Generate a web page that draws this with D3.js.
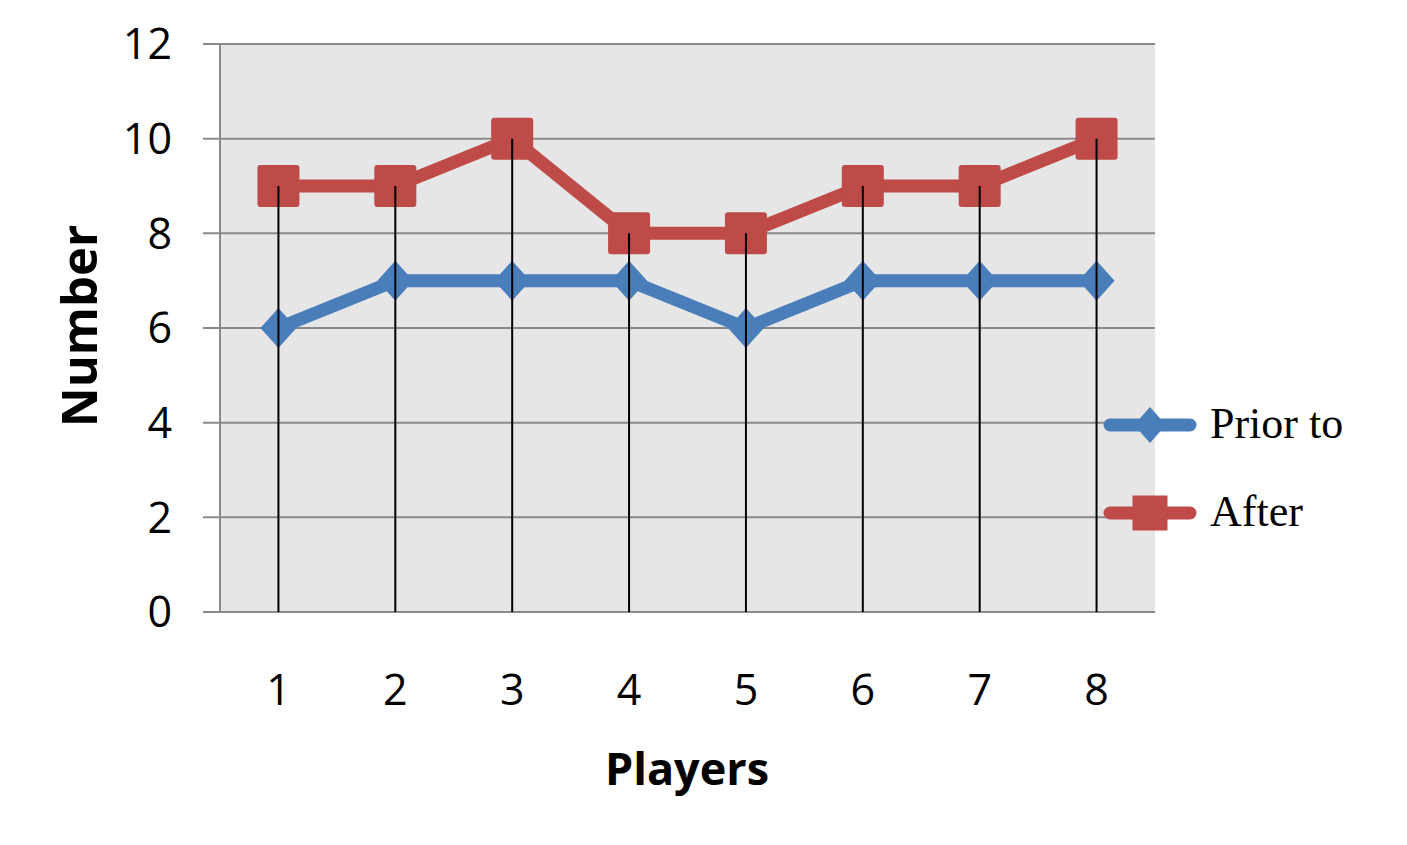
<!DOCTYPE html>
<html>
<head>
<meta charset="utf-8">
<script src="https://cdn.jsdelivr.net/npm/d3@7"></script>
<style>
  body { margin: 0; background: #fff; }
  svg { display: block; }
</style>
</head>
<body>
<svg id="chart" width="1407" height="845"></svg>
<script>
// data
var players = [1, 2, 3, 4, 5, 6, 7, 8];
var priorTo = [6, 7, 7, 7, 6, 7, 7, 7];
var after = [9, 9, 10, 8, 8, 9, 9, 10];
var yTicks = [0, 2, 4, 6, 8, 10, 12];
var seriesNames = ["Prior to", "After"];

const BLUE = "#4a7ebb";
const RED = "#be4b48";
const GRID = "#8a8a8a";
const TICK_FONT = "'Open Sans', sans-serif";

var svg = d3.select("#chart");

var plot = { left: 220, right: 1155, top: 44, bottom: 612 };

var x = d3
  .scaleBand()
  .domain(players)
  .range([plot.left, plot.right]);

var y = d3
  .scaleLinear()
  .domain([0, 12])
  .range([plot.bottom, plot.top]);

// plot background
svg
  .append("rect")
  .attr("x", plot.left)
  .attr("y", plot.top)
  .attr("width", plot.right - plot.left)
  .attr("height", plot.bottom - plot.top)
  .attr("fill", "#e6e6e6");

// gridlines (they poke out to the left like tick marks)
svg
  .append("g")
  .selectAll("line")
  .data(yTicks)
  .join("line")
  .attr("x1", plot.left - 17)
  .attr("x2", plot.right)
  .attr("y1", (d) => y(d))
  .attr("y2", (d) => y(d))
  .attr("stroke", GRID)
  .attr("stroke-width", 2);

// left axis line
svg
  .append("line")
  .attr("x1", plot.left)
  .attr("x2", plot.left)
  .attr("y1", plot.top)
  .attr("y2", plot.bottom)
  .attr("stroke", GRID)
  .attr("stroke-width", 2);

// y tick labels
svg
  .append("g")
  .selectAll("text")
  .data(yTicks)
  .join("text")
  .attr("x", 172)
  .attr("y", (d) => y(d))
  .attr("dy", "0.36em")
  .attr("text-anchor", "end")
  .style("font-family", TICK_FONT)
  .style("font-size", "43px")
  .attr("fill", "#000")
  .text((d) => d);

// x tick labels
svg
  .append("g")
  .selectAll("text")
  .data(players)
  .join("text")
  .attr("x", (d) => x(d) + x.bandwidth() / 2)
  .attr("y", 705)
  .attr("text-anchor", "middle")
  .style("font-family", TICK_FONT)
  .style("font-size", "43px")
  .attr("fill", "#000")
  .text((d) => d);

// axis titles
svg
  .append("text")
  .attr("transform", "translate(97, 326) rotate(-90)")
  .attr("text-anchor", "middle")
  .style("font-family", TICK_FONT)
  .style("font-weight", "bold")
  .style("font-size", "49px")
  .text("Number");

svg
  .append("text")
  .attr("x", 687)
  .attr("y", 785)
  .attr("text-anchor", "middle")
  .style("font-family", TICK_FONT)
  .style("font-weight", "bold")
  .style("font-size", "45px")
  .text("Players");

var cx = (i) => x(players[i]) + x.bandwidth() / 2;

var line = d3
  .line()
  .x((d, i) => cx(i))
  .y((d) => y(d));

function diamond(g, w, h) {
  return g
    .append("path")
    .attr("d", `M0,${-h}L${w},0L0,${h}L${-w},0Z`)
    .attr("fill", BLUE);
}

// Prior to series
svg
  .append("path")
  .datum(priorTo)
  .attr("d", line)
  .attr("fill", "none")
  .attr("stroke", BLUE)
  .attr("stroke-width", 13)
  .attr("stroke-linejoin", "round");

svg
  .append("g")
  .selectAll("path")
  .data(priorTo)
  .join("path")
  .attr("transform", (d, i) => `translate(${cx(i)},${y(d)})`)
  .attr("d", "M0,-20L18,0L0,20L-18,0Z")
  .attr("fill", BLUE);

// After series
svg
  .append("path")
  .datum(after)
  .attr("d", line)
  .attr("fill", "none")
  .attr("stroke", RED)
  .attr("stroke-width", 13)
  .attr("stroke-linejoin", "round");

svg
  .append("g")
  .selectAll("rect")
  .data(after)
  .join("rect")
  .attr("x", (d, i) => cx(i) - 21)
  .attr("y", (d) => y(d) - 21)
  .attr("width", 42)
  .attr("height", 42)
  .attr("rx", 3)
  .attr("fill", RED);

// drop lines from the top series to the axis
svg
  .append("g")
  .selectAll("line")
  .data(after)
  .join("line")
  .attr("x1", (d, i) => cx(i))
  .attr("x2", (d, i) => cx(i))
  .attr("y1", (d) => y(d))
  .attr("y2", y(0))
  .attr("stroke", "#000")
  .attr("stroke-width", 2);

// legend
var legend = svg.append("g");
var legendY = [425, 513];

legend
  .selectAll("line")
  .data(seriesNames)
  .join("line")
  .attr("x1", 1110)
  .attr("x2", 1190)
  .attr("y1", (d, i) => legendY[i])
  .attr("y2", (d, i) => legendY[i])
  .attr("stroke", (d, i) => (i === 0 ? BLUE : RED))
  .attr("stroke-width", 13)
  .attr("stroke-linecap", "round");

diamond(legend.append("g").attr("transform", `translate(1150,${legendY[0]})`), 16, 18);

legend
  .append("rect")
  .attr("x", 1150 - 17.5)
  .attr("y", legendY[1] - 17.5)
  .attr("width", 35)
  .attr("height", 35)
  .attr("fill", RED);

legend
  .selectAll("text")
  .data(seriesNames)
  .join("text")
  .attr("x", 1210)
  .attr("y", (d, i) => legendY[i] + 13)
  .style("font-family", "'Liberation Serif', 'Times New Roman', serif")
  .style("font-size", "44px")
  .attr("fill", "#000")
  .text((d) => d);
</script>
</body>
</html>
